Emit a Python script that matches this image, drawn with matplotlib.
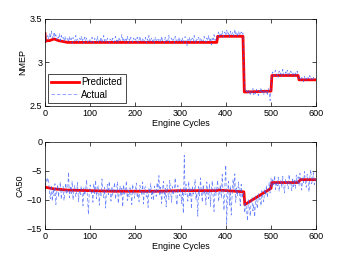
import matplotlib.pyplot as plt
import numpy as np

plt.rcParams["font.family"] = ["Liberation Sans", "DejaVu Sans"]
plt.rcParams["font.size"] = 6.5

# NMEP: actual sampled every 2 engine cycles, predicted as breakpoints
nmep_actual = [
    3.34, 3.25, 3.29, 3.31, 3.27, 3.33, 3.28, 3.36, 3.30, 3.27, 3.35, 3.29, 3.32, 3.26, 3.30, 3.28, 3.33, 3.25, 3.31, 3.27, 3.29, 3.24, 3.30, 3.26, 3.28,
    3.27, 3.23, 3.30, 3.25, 3.28, 3.22, 3.29, 3.26, 3.24, 3.31, 3.25, 3.27, 3.23, 3.28, 3.26, 3.30, 3.24, 3.27, 3.22, 3.29, 3.25, 3.28, 3.23, 3.26, 3.24,
    3.27, 3.23, 3.29, 3.25, 3.22, 3.28, 3.26, 3.24, 3.30, 3.23, 3.27, 3.25, 3.29, 3.22, 3.26, 3.31, 3.24, 3.27, 3.23, 3.28, 3.25, 3.22, 3.27, 3.26, 3.24,
    3.28, 3.23, 3.26, 3.30, 3.24, 3.27, 3.22, 3.29, 3.25, 3.26, 3.32, 3.24, 3.27, 3.23, 3.28, 3.25, 3.30, 3.22, 3.27, 3.24, 3.29, 3.26, 3.23, 3.28, 3.25,
    3.27, 3.24, 3.29, 3.22, 3.26, 3.30, 3.25, 3.23, 3.28, 3.26, 3.24, 3.29, 3.22, 3.27, 3.25, 3.31, 3.23, 3.26, 3.28, 3.24, 3.27, 3.22, 3.29, 3.25, 3.26,
    3.28, 3.24, 3.27, 3.23, 3.30, 3.25, 3.26, 3.22, 3.29, 3.24, 3.27, 3.25, 3.31, 3.23, 3.26, 3.28, 3.24, 3.27, 3.22, 3.30, 3.25, 3.26, 3.23, 3.29, 3.25,
    3.27, 3.24, 3.28, 3.22, 3.26, 3.30, 3.25, 3.19, 3.27, 3.24, 3.29, 3.23, 3.26, 3.28, 3.24, 3.31, 3.25, 3.22, 3.27, 3.26, 3.29, 3.23, 3.28, 3.25, 3.27,
    3.24, 3.30, 3.26, 3.23, 3.28, 3.25, 3.31, 3.24, 3.27, 3.20, 3.29, 3.26, 3.32, 3.25, 3.28,
    3.27, 3.32, 3.35, 3.30, 3.34, 3.31, 3.36, 3.29, 3.33, 3.35, 3.30, 3.37, 3.32, 3.34, 3.29, 3.36, 3.31, 3.33, 3.35, 3.30, 3.38, 3.32, 3.34, 3.29, 3.36, 3.33, 3.31, 3.35, 3.32, 3.34,
    2.95, 2.70, 2.66, 2.68, 2.64, 2.69, 2.66, 2.62, 2.68, 2.65, 2.70, 2.63, 2.67, 2.64, 2.69, 2.66, 2.62, 2.68, 2.65, 2.71, 2.64, 2.67, 2.63, 2.69, 2.66, 2.68, 2.62, 2.70, 2.65, 2.56,
    2.70, 2.86, 2.89, 2.84, 2.88, 2.91, 2.85, 2.87, 2.83, 2.90, 2.86, 2.88, 2.84, 2.92, 2.87, 2.85, 2.89, 2.86, 2.91, 2.84, 2.88, 2.86, 2.90, 2.85, 2.87, 2.89, 2.84, 2.88, 2.86, 2.90,
    2.84, 2.80, 2.82, 2.79, 2.83, 2.81, 2.78, 2.84, 2.80, 2.82, 2.79, 2.83, 2.81, 2.85, 2.80, 2.82, 2.79, 2.83, 2.81, 2.82,
]
nmep_pred_cycles = [0, 1, 3, 10, 20, 30, 50, 100, 200, 300, 380, 382, 438, 441, 500, 502, 560, 562, 600]
nmep_pred = [3.33, 3.24, 3.25, 3.25, 3.27, 3.25, 3.23, 3.23, 3.23, 3.23, 3.23, 3.30, 3.30, 2.66, 2.67, 2.85, 2.85, 2.80, 2.80]

# CA50
ca50_actual = [
    -8.5, -6.4, -7.0, -6.2, -6.8, -8.9, -9.8, -7.5, -10.2, -8.1, -9.3, -7.2, -10.8, -8.6, -7.4, -9.5, -8.0, -6.9, -9.9, -8.3, -7.7, -10.1, -8.8, -7.1, -9.0,
    -8.4, -5.2, -9.6, -7.8, -8.9, -6.8, -10.0, -8.2, -7.5, -9.4, -8.6, -7.0, -10.3, -8.5, -9.1, -7.6, -8.8, -11.0, -7.9, -9.2, -8.1, -6.5, -9.7, -12.5, -8.3,
    -7.4, -9.0, -8.6, -10.4, -7.2, -8.9, -6.6, -9.8, -8.0, -7.5, -10.9, -8.7, -9.3, -6.4, -8.2, -9.6, -7.8, -11.4, -8.5, -7.3, -9.1, -6.8, -8.7, -10.2, -7.7,
    -9.2, -8.1, -7.0, -9.9, -8.4, -6.9, -10.6, -8.8, -7.6, -9.4, -8.0, -11.2, -7.4, -9.0, -8.6, -6.7, -10.1, -8.3, -9.5, -7.9, -8.9, -10.8, -7.3, -8.6, -9.7,
    -8.2, -7.1, -9.6, -8.8, -10.3, -7.5, -8.4, -9.2, -6.9, -10.7, -8.1, -7.7, -9.5, -8.6, -11.3, -7.9, -8.9, -7.2, -9.8, -8.3, -10.1, -7.6, -8.7, -9.4, -7.0,
    -8.5, -5.8, -9.3, -7.8, -10.6, -8.2, -6.8, -9.7, -8.0, -11.2, -7.4, -8.9, -9.9, -6.6, -8.4, -10.4, -7.7, -9.1, -8.3, -6.2, -9.6, -10.9, -7.5, -8.8, -9.3,
    -7.9, -10.6, -8.4, -12.3, -2.3, -9.1, -7.3, -8.7, -10.2, -6.8, -9.5, -8.1, -11.5, -7.6, -9.0, -8.5, -6.5, -10.0, -8.8, -12.8, -7.7, -9.3, -6.2, -8.6, -10.4,
    -7.4, -9.1, -8.3, -10.8, -6.9, -8.7, -9.8, -7.2, -11.1, -8.4, -6.7, -9.5, -12.0, -7.8, -9.2,
    -8.0, -6.6, -10.3, -8.7, -7.4, -9.6, -5.6, -8.9, -11.8, -7.2, -4.0, -14.2, -8.4, -6.8, -10.9, -7.6, -12.6, -9.1, -6.4, -8.2, -5.5, -10.4, -7.9, -9.3, -6.9, -8.5, -11.0, -7.3, -9.7, -8.6,
    -9.0, -12.2, -10.5, -11.8, -13.6, -9.9, -11.3, -12.8, -10.2, -9.6, -11.9, -10.8, -12.9, -9.3, -10.6, -11.5, -8.9, -10.1, -9.7, -11.0, -8.4, -9.8, -10.3, -8.1, -9.2, -7.5, -9.6, -8.3, -7.0, -8.8,
    -6.3, -7.9, -6.5, -7.4, -5.8, -8.2, -6.9, -7.6, -6.1, -8.5, -7.2, -6.6, -7.9, -5.9, -7.5, -8.8, -6.4, -7.1, -6.8, -8.1, -5.6, -7.3, -6.9, -8.4, -6.2, -7.7, -6.6, -8.0, -5.7, -7.2,
    -6.0, -7.6, -5.4, -6.8, -8.3, -6.2, -7.0, -5.1, -6.9, -7.8, -5.6, -6.4, -8.6, -6.1, -4.8, -7.2, -6.5, -5.3, -7.4, -6.3,
]
ca50_pred_cycles = [0, 20, 50, 150, 250, 300, 380, 384, 440, 442, 500, 502, 560, 565, 600]
ca50_pred = [-7.8, -8.1, -8.3, -8.5, -8.5, -8.4, -8.4, -8.3, -8.6, -10.8, -8.0, -7.0, -7.0, -6.5, -6.5]

nmep_cycles = np.arange(len(nmep_actual)) * 2
ca50_cycles = np.arange(len(ca50_actual)) * 2


def style_axes(ax):
    ax.tick_params(direction="in", top=True, right=True, length=3, width=0.5, pad=2)
    for spine in ax.spines.values():
        spine.set_linewidth(0.5)
    ax.set_xlim(0, 600)
    ax.set_xticks([0, 100, 200, 300, 400, 500, 600])
    ax.set_xlabel("Engine Cycles", labelpad=1)


fig = plt.figure(figsize=(3.49, 2.59), dpi=100)
ax1 = fig.add_axes([0.129, 0.591, 0.777, 0.336])
ax2 = fig.add_axes([0.129, 0.116, 0.777, 0.336])

blue = "#3355ff"
ax1.plot(nmep_pred_cycles, nmep_pred, color="red", lw=2, label="Predicted")
ax1.plot(nmep_cycles, nmep_actual, color=blue, alpha=0.75, lw=0.5, ls=(0, (5, 3)), label="Actual")
ax1.set_ylim(2.5, 3.5)
ax1.set_yticks([2.5, 3, 3.5], labels=["2.5", "3", "3.5"])
ax1.set_ylabel("NMEP", labelpad=2)
style_axes(ax1)
leg = ax1.legend(loc="lower left", fancybox=False, edgecolor="black", framealpha=1, fontsize=7,
                 handlelength=2.8, borderaxespad=0.3, borderpad=0.35, labelspacing=0.25, handletextpad=0.3)
leg.get_frame().set_linewidth(0.5)

ax2.plot(ca50_pred_cycles, ca50_pred, color="red", lw=2)
ax2.plot(ca50_cycles, ca50_actual, color=blue, alpha=0.75, lw=0.5, ls=(0, (5, 3)))
ax2.set_ylim(-15, 0)
ax2.set_yticks([-15, -10, -5, 0])
ax2.set_ylabel("CA50", labelpad=2)
style_axes(ax2)

fig.savefig("out.png", dpi=100)
